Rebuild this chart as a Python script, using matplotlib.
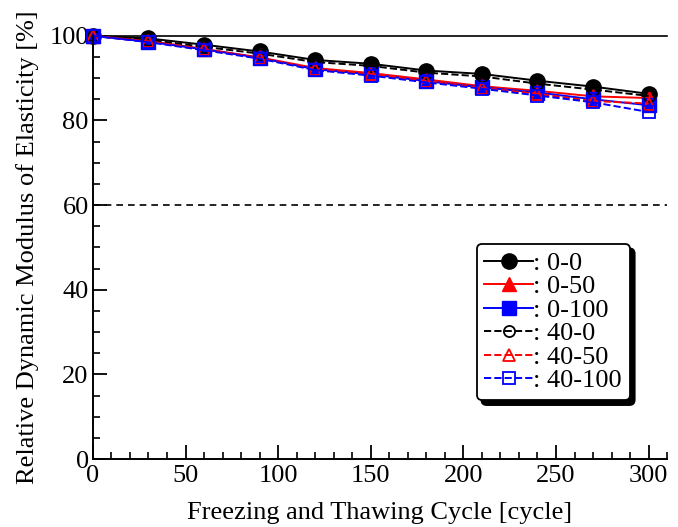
import matplotlib
matplotlib.use('Agg')
import matplotlib.pyplot as plt
from matplotlib.ticker import MultipleLocator

cycles = [0, 30, 60, 90, 120, 150, 180, 210, 240, 270, 300]
rdm_0_0 = [100, 99.4, 97.9, 96.3, 94.3, 93.4, 91.8, 91.0, 89.4, 88.0, 86.3]
rdm_0_50 = [100, 98.8, 96.9, 94.9, 92.4, 91.2, 89.7, 88.1, 87.0, 85.7, 85.3]
rdm_0_100 = [100, 98.6, 96.8, 94.8, 92.1, 90.9, 89.3, 87.8, 86.6, 85.0, 83.6]
rdm_40_0 = [100, 99.1, 97.4, 95.8, 93.8, 92.9, 91.3, 90.4, 88.7, 87.3, 85.8]
rdm_40_50 = [100, 98.7, 96.8, 94.8, 92.2, 91.0, 89.3, 87.7, 86.3, 84.6, 84.0]
rdm_40_100 = [100, 98.5, 96.6, 94.6, 91.9, 90.6, 89.0, 87.5, 85.9, 84.3, 82.0]

plt.rcParams['font.family'] = ['Liberation Serif', 'DejaVu Serif']
plt.rcParams['font.size'] = 19

fig = plt.figure(figsize=(6.78, 5.27), dpi=100)
ax = fig.add_axes([0.137, 0.129, 0.847, 0.803])

ax.axhline(100, color='black', lw=1.2, clip_on=False, zorder=1)
ax.axhline(60, color='black', lw=1.2, ls=(0, (4, 3)), clip_on=False, zorder=1)

ax.plot(cycles, rdm_0_0, '-o', color='black', mfc='black', mec='black', ms=11, lw=1.4, label=': 0-0', clip_on=False)
ax.plot(cycles, rdm_0_50, '-^', color='red', mfc='red', mec='red', ms=10, lw=1.4, label=': 0-50', clip_on=False)
ax.plot(cycles, rdm_0_100, '-s', color='blue', mfc='blue', mec='blue', ms=10, lw=1.4, label=': 0-100', clip_on=False)
ax.plot(cycles, rdm_40_0, '--o', color='black', mfc='none', mec='black', ms=8, mew=1.3, lw=1.4, label=': 40-0', clip_on=False)
ax.plot(cycles, rdm_40_50, '--^', color='red', mfc='none', mec='red', ms=8, mew=1.3, lw=1.4, label=': 40-50', clip_on=False)
ax.plot(cycles, rdm_40_100, '--s', color='blue', mfc='none', mec='blue', ms=8, mew=1.3, lw=1.4, label=': 40-100', clip_on=False)

ax.set_xlim(0, 310)
ax.set_ylim(0, 100)
ax.spines['top'].set_visible(False)
ax.spines['right'].set_visible(False)
ax.spines['left'].set_linewidth(1.4)
ax.spines['bottom'].set_linewidth(1.4)

ax.xaxis.set_major_locator(MultipleLocator(50))
ax.xaxis.set_minor_locator(MultipleLocator(10))
ax.yaxis.set_major_locator(MultipleLocator(20))
ax.yaxis.set_minor_locator(MultipleLocator(5))
ax.tick_params(which='major', direction='in', length=10, width=1.3)
ax.tick_params(axis='x', which='major', pad=4)
ax.tick_params(axis='y', which='major', pad=3)
ax.tick_params(which='minor', direction='in', length=5, width=1.2)

ax.set_xlabel('Freezing and Thawing Cycle [cycle]', labelpad=11)
ax.set_ylabel('Relative Dynamic Modulus of Elasticity [%]', labelpad=7)

leg = ax.legend(loc='lower right', bbox_to_anchor=(0.935, 0.139), fontsize=19,
                frameon=True, fancybox=True, edgecolor='black', framealpha=1,
                shadow={'color': 'black', 'alpha': 1, 'ox': 3.5, 'oy': -3.5},
                handlelength=1.85, handletextpad=0.0, labelspacing=0.0,
                borderpad=0.3, borderaxespad=0)
leg.get_frame().set_linewidth(1.3)

plt.savefig('out.png', dpi=100)
